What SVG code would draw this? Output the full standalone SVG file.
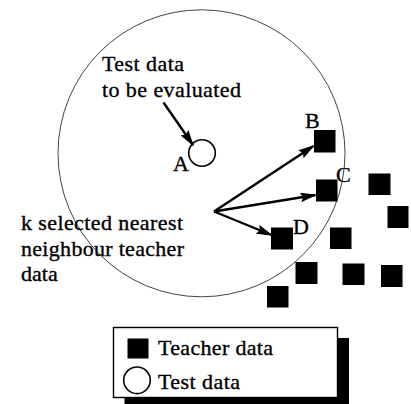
<svg xmlns="http://www.w3.org/2000/svg" width="411" height="404" viewBox="0 0 411 404">
<style>
.t{font-family:'Liberation Serif','Times New Roman',serif;font-size:22px;fill:#000;stroke:#000;stroke-width:0.35}
.sq{fill:#000;stroke:none}
.ar{stroke:#000;stroke-width:2.4;fill:none;marker-end:url(#ah)}
</style>
<defs>
<marker id="ah" viewBox="0 0 10 10" refX="9" refY="5" markerWidth="7" markerHeight="4" orient="auto" markerUnits="strokeWidth" preserveAspectRatio="none">
<path d="M0,0 L10,5 L0,10 L1.5,5 z" fill="#000" stroke="none"/>
</marker>
</defs>
<rect width="411" height="404" fill="#fff"/>
<g id="region"><circle cx="201.5" cy="153.3" r="143.5" fill="none" stroke="#444" stroke-width="1"/></g>
<g id="label-test" class="t"><text x="102" y="71" textLength="82">Test data</text><text x="102" y="97" textLength="139">to be evaluated</text></g>
<g id="node-A"><circle cx="202" cy="153" r="13.3" fill="#fff" stroke="#000" stroke-width="1.6"/><text class="t" x="173" y="171" font-size="21">A</text></g>
<g id="node-B"><rect class="sq" x="314" y="130" width="21.5" height="22.5"/><text class="t" x="305" y="128" font-size="21">B</text></g>
<g id="node-C"><rect class="sq" x="316" y="179.5" width="21.5" height="22"/><text class="t" x="336" y="182" font-size="21">C</text></g>
<g id="node-D"><rect class="sq" x="271" y="227.5" width="22" height="22"/><text class="t" x="293" y="233.5" font-size="21">D</text></g>
<g id="teacher-others">
<rect class="sq" x="368.5" y="173.5" width="22" height="21.5"/>
<rect class="sq" x="387.5" y="206" width="21" height="22"/>
<rect class="sq" x="330" y="227.5" width="21.5" height="21.5"/>
<rect class="sq" x="295.5" y="262" width="22" height="22"/>
<rect class="sq" x="342.5" y="263.5" width="22" height="21.5"/>
<rect class="sq" x="381" y="265" width="21.5" height="22"/>
<rect class="sq" x="267" y="286" width="21.5" height="21.5"/>
</g>
<g id="label-k" class="t"><text x="21" y="230" textLength="162">k selected nearest</text><text x="21" y="256" textLength="163">neighbour teacher</text><text x="21" y="281">data</text></g>
<g id="connectors">
<line class="ar" x1="163.5" y1="102.5" x2="193" y2="145"/>
<line class="ar" x1="214" y1="211.5" x2="313.5" y2="146"/>
<line class="ar" x1="214" y1="211.5" x2="315.5" y2="195"/>
<line class="ar" x1="214" y1="211.5" x2="271.5" y2="235"/>
</g>
<g id="legend">
<rect x="124.5" y="338" width="224.5" height="70" fill="#000"/>
<rect x="113.5" y="327.5" width="224" height="70" fill="#fff" stroke="#000" stroke-width="1.4"/>
<rect class="sq" x="127.5" y="338.5" width="21" height="20"/>
<text class="t" x="158" y="355" textLength="115">Teacher data</text>
<circle cx="137" cy="380.3" r="13.3" fill="#fff" stroke="#000" stroke-width="1.6"/>
<text class="t" x="158" y="388.5" textLength="82">Test data</text>
</g>
</svg>
